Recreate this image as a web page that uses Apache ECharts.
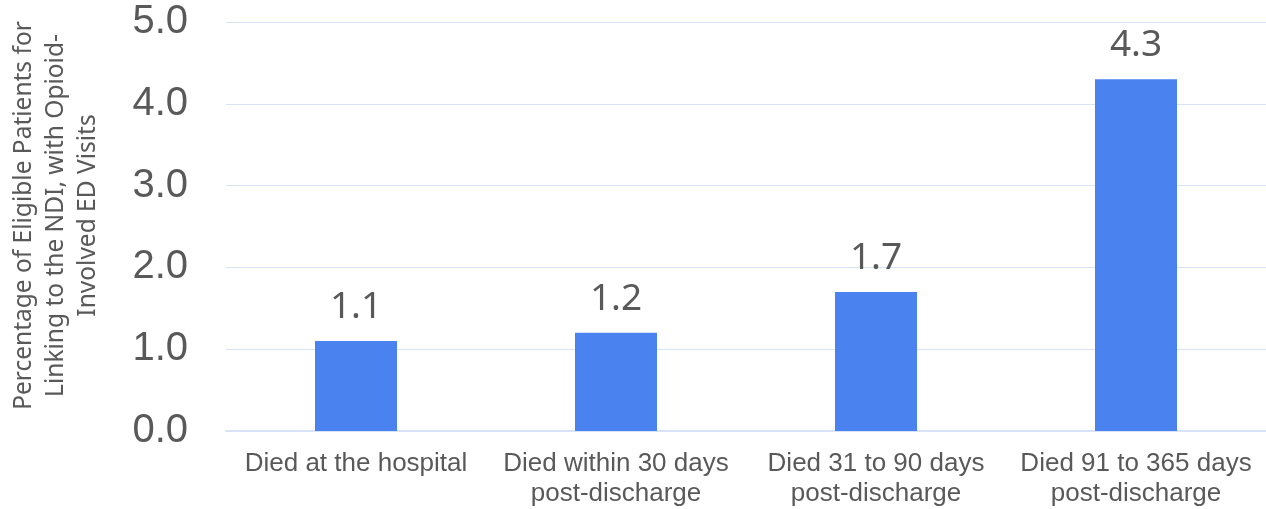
<!DOCTYPE html>
<html lang="en">
<head>
    <meta charset="UTF-8">
    <title>NDI linkage</title>
    <script src="https://cdn.jsdelivr.net/npm/echarts@6/dist/echarts.min.js"></script>
</head>
<body style="margin:0">
<div id="main" style="width: 1266px;height:509px;"></div>
<script type="text/javascript">
    var categories = ['Died at the hospital', 'Died within 30 days\npost-discharge',
        'Died 31 to 90 days\npost-discharge', 'Died 91 to 365 days\npost-discharge'];
    var values = [1.1, 1.2, 1.7, 4.3];
    var yName = 'Percentage of Eligible Patients for\nLinking to the NDI, with Opioid-\nInvolved ED Visits';

    var myChart = echarts.init(document.getElementById('main'));
    var grey = '#595959';
    var option = {
        animation: false,
        grid: {left: 224, right: -2, top: 22, bottom: 78},
        xAxis: {
            type: 'category',
            data: categories,
            axisTick: {show: false},
            axisLine: {lineStyle: {color: '#d9e3f7', width: 2}},
            axisLabel: {
                color: grey, fontSize: 26, lineHeight: 30, margin: 18,
                fontFamily: 'Liberation Sans', interval: 0
            }
        },
        yAxis: {
            type: 'value',
            min: 0, max: 5, interval: 1,
            name: yName,
            nameLocation: 'middle',
            nameGap: 122,
            nameTextStyle: {
                color: grey, fontSize: 24.5, lineHeight: 32,
                fontFamily: 'Noto Sans', padding: [0, 0, 0, 22]
            },
            axisLabel: {
                color: grey, fontSize: 40, margin: 38,
                fontFamily: 'Liberation Sans',
                formatter: function (v) { return v.toFixed(1); }
            },
            splitLine: {lineStyle: {color: '#d9e3f7', width: 1}}
        },
        series: [{
            type: 'bar',
            data: values,
            barWidth: 82,
            itemStyle: {color: '#4a83f0'},
            label: {
                show: true, position: 'top', distance: 15,
                color: grey, fontSize: 37, fontFamily: 'Noto Sans',
                formatter: function (p) { return p.value.toFixed(1); }
            }
        }]
    };
    myChart.setOption(option);
</script>
</body>
</html>
